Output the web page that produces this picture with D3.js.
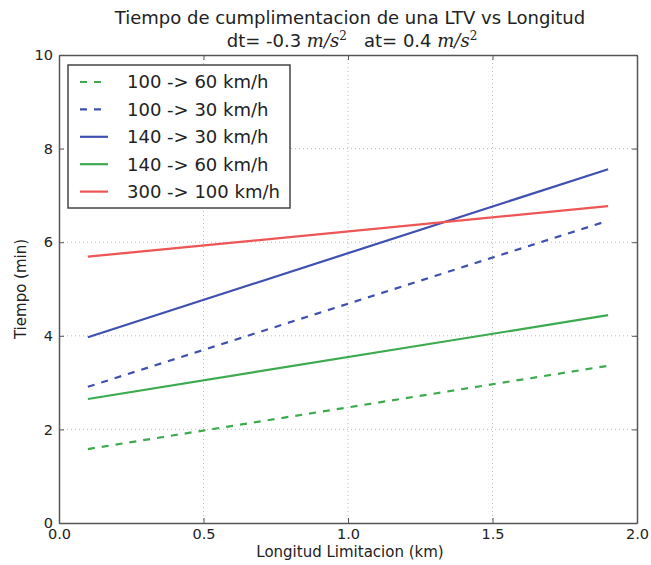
<!DOCTYPE html>
<html>
<head>
<meta charset="utf-8">
<script src="https://cdn.jsdelivr.net/npm/d3@7"></script>
<style>
  body { margin: 0; background: #fff; }
  text { font-family: "DejaVu Sans", sans-serif; fill: #222; }
</style>
</head>
<body>
<div id="chart"></div>
<script>
// data
var lengths = [0.1, 1.9];
var seriesNames = ["100 -> 60 km/h", "100 -> 30 km/h", "140 -> 30 km/h", "140 -> 60 km/h", "300 -> 100 km/h"];
var t100to60 = [1.58, 3.36];
var t100to30 = [2.91, 6.46];
var t140to30 = [3.97, 7.56];
var t140to60 = [2.65, 4.44];
var t300to100 = [5.69, 6.77];
var xTicks = [0, 0.5, 1.0, 1.5, 2.0];
var yTicks = [0, 2, 4, 6, 8, 10];

var seriesValues = [t100to60, t100to30, t140to30, t140to60, t300to100];
var colors = ["#3daa4f", "#4050b0", "#4050b0", "#3daa4f", "#ee5555"];
var dashes = ["7,7", "7,7", null, null, null];

var svgWidth = 651, svgHeight = 565;
var margin = { top: 55, right: 14, bottom: 42, left: 59 };
var width = svgWidth - margin.left - margin.right;
var height = svgHeight - margin.top - margin.bottom;

var svg = d3.select("#chart").append("svg")
  .attr("width", svgWidth)
  .attr("height", svgHeight);

var chartGroup = svg.append("g")
  .attr("transform", `translate(${margin.left}, ${margin.top})`);

var xScale = d3.scaleLinear().domain([0, 2]).range([0, width]);
var yScale = d3.scaleLinear().domain([0, 10]).range([height, 0]);

// grid
chartGroup.append("g").selectAll("line").data(xTicks.slice(1, -1)).enter().append("line")
  .attr("x1", d => xScale(d)).attr("x2", d => xScale(d))
  .attr("y1", 0).attr("y2", height)
  .attr("stroke", "#bbb").attr("stroke-dasharray", "1,3");
chartGroup.append("g").selectAll("line").data(yTicks.slice(1, -1)).enter().append("line")
  .attr("x1", 0).attr("x2", width)
  .attr("y1", d => yScale(d)).attr("y2", d => yScale(d))
  .attr("stroke", "#bbb").attr("stroke-dasharray", "1,3");

// axes
var bottomAxis = d3.axisBottom(xScale).tickValues(xTicks).tickFormat(d3.format(".1f")).tickSizeInner(-5).tickSizeOuter(0).tickPadding(6);
var topAxis = d3.axisTop(xScale).tickValues(xTicks).tickFormat("").tickSizeInner(-5).tickSizeOuter(0);
var leftAxis = d3.axisLeft(yScale).tickValues(yTicks).tickFormat(d3.format("d")).tickSizeInner(-5).tickSizeOuter(0).tickPadding(6);
var rightAxis = d3.axisRight(yScale).tickValues(yTicks).tickFormat("").tickSizeInner(-5).tickSizeOuter(0);

var axes = [
  chartGroup.append("g").attr("transform", `translate(0, ${height})`).call(bottomAxis),
  chartGroup.append("g").call(topAxis),
  chartGroup.append("g").call(leftAxis),
  chartGroup.append("g").attr("transform", `translate(${width}, 0)`).call(rightAxis)
];
axes.forEach(function(a) {
  a.selectAll("text").style("font-size", "14.5px").attr("fill", "#333");
  a.selectAll("line").attr("stroke", "#555");
  a.select(".domain").attr("stroke", "#555").attr("stroke-width", 1.5);
});

// lines
var line = d3.line()
  .x((d, i) => xScale(lengths[i]))
  .y(d => yScale(d));

seriesValues.forEach(function(vals, i) {
  chartGroup.append("path")
    .datum(vals)
    .attr("d", line)
    .attr("fill", "none")
    .attr("stroke", colors[i])
    .attr("stroke-width", 2.2)
    .attr("stroke-dasharray", dashes[i]);
});

// legend
var legend = chartGroup.append("g").attr("transform", "translate(9, 10)");
legend.append("rect")
  .attr("width", 222).attr("height", 143)
  .attr("fill", "#fff").attr("stroke", "#444").attr("stroke-width", 1.5);
seriesNames.forEach(function(name, i) {
  var yy = 17 + i * 27.4;
  legend.append("line")
    .attr("x1", 12).attr("x2", 40)
    .attr("y1", yy).attr("y2", yy)
    .attr("stroke", colors[i]).attr("stroke-width", 2.2)
    .attr("stroke-dasharray", dashes[i]);
  legend.append("text")
    .attr("x", 59).attr("y", yy)
    .attr("dy", "0.35em")
    .style("font-size", "18px")
    .text(name);
});

// titles
svg.append("text")
  .attr("x", 350).attr("y", 24)
  .attr("text-anchor", "middle")
  .style("font-size", "18px")
  .text("Tiempo de cumplimentacion de una LTV vs Longitud");

var sub = svg.append("text")
  .attr("x", 352).attr("y", 47)
  .attr("text-anchor", "middle")
  .style("font-size", "18px");
sub.append("tspan").text("dt= -0.3 ");
sub.append("tspan").style("font-family", "DejaVu Serif, serif").style("font-style", "italic").text("m/s");
sub.append("tspan").attr("dy", -7).style("font-size", "12px").style("font-family", "DejaVu Serif, serif").text("2");
sub.append("tspan").attr("dy", 7).text("\u00a0\u00a0 at= 0.4 ");
sub.append("tspan").style("font-family", "DejaVu Serif, serif").style("font-style", "italic").text("m/s");
sub.append("tspan").attr("dy", -7).style("font-size", "12px").style("font-family", "DejaVu Serif, serif").text("2");

svg.append("text")
  .attr("x", margin.left + width / 2 + 2).attr("y", 557)
  .attr("text-anchor", "middle")
  .style("font-size", "15px")
  .text("Longitud Limitacion (km)");

svg.append("text")
  .attr("transform", `translate(26, ${margin.top + height / 2}) rotate(-90)`)
  .attr("text-anchor", "middle")
  .style("font-size", "15px")
  .text("Tiempo (min)");
</script>
</body>
</html>
